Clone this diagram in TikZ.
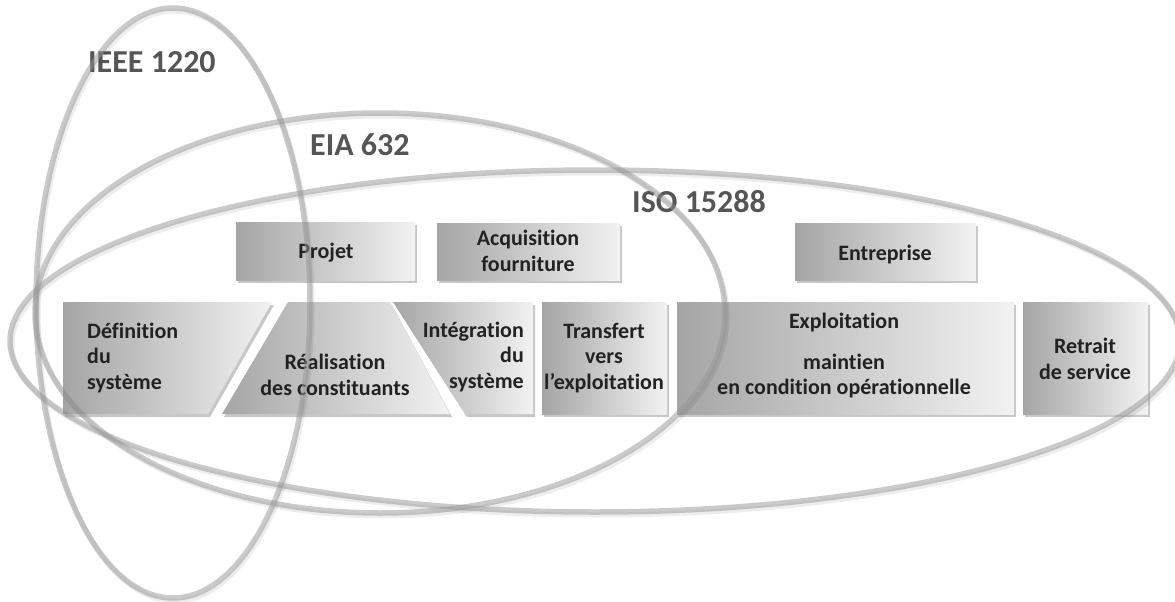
\documentclass[tikz,border=0pt]{standalone}
\usepackage{fontspec}
\setmainfont{Carlito}[Ligatures=NoCommon]
\usepackage{tikz}

\definecolor{boxdark}{RGB}{165,165,165}
\definecolor{boxlight}{RGB}{242,242,242}
\definecolor{boxtext}{RGB}{34,34,34}
\definecolor{ringgray}{RGB}{150,150,150}
\definecolor{normgray}{RGB}{85,85,85}

\begin{document}
\begin{tikzpicture}[x=1pt,y=-1pt,
    stage/.style={left color=boxdark, right color=boxlight},
    stageshadow/.style={fill=black, opacity=0.22},
    stagetext/.style={text=boxtext, font=\fontsize{22}{25.5}\selectfont\bfseries, inner sep=0pt},
    ring/.style={draw=ringgray, line width=5.5pt, draw opacity=0.5},
    ringshadow/.style={draw=black, line width=5pt, draw opacity=0.07},
    norm/.style={text=normgray, font=\fontsize{32}{38}\selectfont\bfseries, inner sep=0pt, anchor=base west}]

    \useasboundingbox (0,0) rectangle (1175,602);

    % boites rectangulaires
    \foreach \xa/\ya/\xb/\yb in {236/222/415/280, 437/223/620/280, 795/223/976/280,
                                 542/302/667/414, 677/302/1014/414, 1023/302/1148/414} {
        \fill[stageshadow] (\xa+2,\ya+3) rectangle (\xb+2,\yb+3);
        \path[stage] (\xa,\ya) rectangle (\xb,\yb);
    }

    % boites biseautees
    \fill[stageshadow] (65,305) -- (274,305) -- (210,417) -- (65,417) -- cycle;
    \path[stage] (63,302) -- (272,302) -- (208,414) -- (63,414) -- cycle;
    \fill[stageshadow] (290,305) -- (392,305) -- (452,417) -- (224,417) -- cycle;
    \path[stage] (288,302) -- (390,302) -- (450,414) -- (222,414) -- cycle;
    \fill[stageshadow] (395,305) -- (535,305) -- (535,417) -- (467,417) -- cycle;
    \path[stage] (393,302) -- (533,302) -- (533,414) -- (465,414) -- cycle;

    \node[stagetext] (proj) at (326,253) {Projet};
    \node[stagetext, align=center] (acq) at (528,251) {Acquisition\\fourniture};
    \node[stagetext] (entr) at (885,255) {Entreprise};

    \node[stagetext, align=left, anchor=west] (def) at (87,358) {Définition\\du\\système};
    \node[stagetext, align=center] (real) at (335,375) {Réalisation\\des constituants};
    \node[stagetext, align=right, anchor=east] (integ) at (524,357) {Intégration\\du\\système};
    \node[stagetext, align=center] (transf) at (604,358) {Transfert\\vers\\l’exploitation};
    \node[stagetext, align=center] (exploit) at (844,356) {Exploitation\\[15pt]maintien\\en condition opérationnelle};
    \node[stagetext, align=center] (retrait) at (1085,359) {Retrait\\de service};

    \node[norm] (ieee) at (88,73) {IEEE 1220};
    \node[norm] (eia) at (310,155) {EIA 632};
    \node[norm] (iso) at (632,212) {ISO 15288};

    % les trois normes
    \draw[ringshadow] (175,306) ellipse [x radius=137pt, y radius=295pt];
    \draw[ringshadow] (382,316) ellipse [x radius=345pt, y radius=200pt];
    \draw[ringshadow] (597,344) ellipse [x radius=585pt, y radius=171pt];
    \draw[ring] (173,303) ellipse [x radius=137pt, y radius=295pt];
    \draw[ring] (380,313) ellipse [x radius=345pt, y radius=200pt];
    \draw[ring] (595,341) ellipse [x radius=585pt, y radius=171pt];
\end{tikzpicture}
\end{document}
